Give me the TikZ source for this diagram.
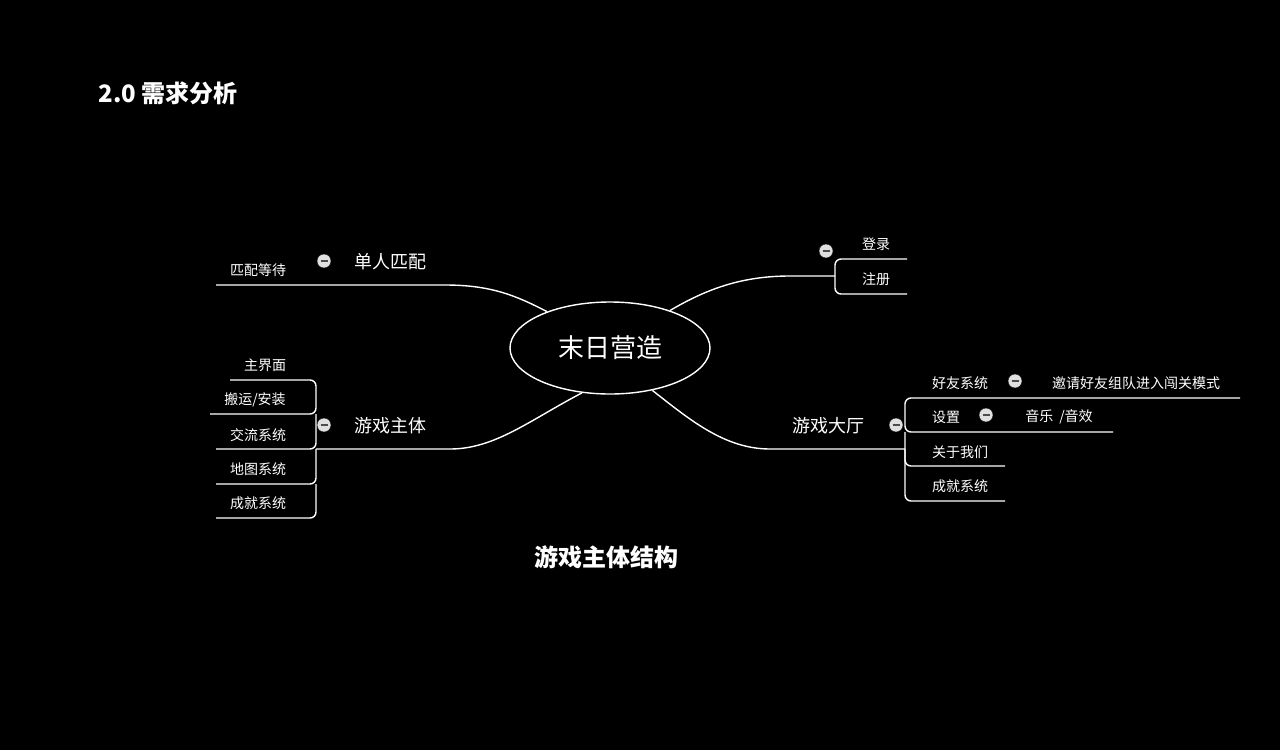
\documentclass[tikz,border=0pt]{standalone}
\usepackage{fontspec}
\setmainfont{Noto Sans CJK SC}
\usetikzlibrary{positioning,shapes.geometric}

\tikzset{
  branch/.style={draw=white, line width=1.4pt},
  leaf/.style={text=white, font=\fontsize{14}{16}\selectfont},
  topic/.style={text=white, font=\fontsize{18}{20}\selectfont},
  fold/.style={circle, fill=white!88!black, draw=black, inner sep=0pt, minimum size=14pt,
    path picture={\draw[black!70, line width=1.2pt] ([xshift=-3.5pt]path picture bounding box.center) -- ([xshift=3.5pt]path picture bounding box.center);}}
}

\begin{document}
\begin{tikzpicture}[x=1pt, y=-1pt]
    \fill[black] (0,0) rectangle (1280,750);
    \useasboundingbox (0,0) rectangle (1280,750);

    % title and caption
    \node[text=white, font=\fontsize{24}{26}\selectfont\bfseries, anchor=west] (title) at (95,93) {2.0 需求分析};
    \node[text=white, font=\fontsize{24}{26}\selectfont\bfseries] (caption) at (606,557) {游戏主体结构};

    % centre
    \node[ellipse, draw=white, line width=1.4pt, minimum width=200pt, minimum height=92pt,
      text=white, font=\fontsize{26}{28}\selectfont] (root) at (610,348) {末日营造};

    % single match
    \coordinate (s1) at (445,285);
    \coordinate (s2) at (216,285);
    \draw[branch] (root.150) .. controls (515,295) and (490,285) .. (s1) -- (s2);
    \node[topic] (single) at (390,262) {单人匹配};
    \node[fold] (fsingle) at (324,261) {};
    \node[leaf] (wait) at (258,270) {匹配等待};

    % game body
    \coordinate (b0) at (450,449);
    \coordinate (bx) at (316,449);
    \draw[branch] (root.238) .. controls (530,420) and (495,449) .. (b0) -- (bx);
    \node[topic] (body) at (390,426) {游戏主体};
    \node[fold] (fbody) at (324,425) {};
    \draw[branch, rounded corners=6pt] (230,380) -- (316,380) -- (316,414) -- (210,414);
    \draw[branch, rounded corners=6pt] (316,414) -- (316,449) -- (216,449);
    \draw[branch, rounded corners=6pt] (216,484) -- (316,484) -- (316,449);
    \draw[branch, rounded corners=6pt] (216,518) -- (316,518) -- (316,484);
    \node[leaf] (main) at (265,365) {主界面};
    \node[leaf] (carry) at (255,400) {搬运/安装};
    \node[leaf] (chat) at (258,435) {交流系统};
    \node[leaf] (map) at (258,469) {地图系统};
    \node[leaf] (ach) at (258,503) {成就系统};

    % login
    \coordinate (l0) at (790,276);
    \draw[branch] (root.32) .. controls (705,290) and (740,276) .. (l0) -- (835,276);
    \node[fold] (flogin) at (826,251) {};
    \draw[branch, rounded corners=6pt] (907,259) -- (835,259) -- (835,294) -- (907,294);
    \node[leaf] (login) at (876,244) {登录};
    \node[leaf] (reg) at (876,279) {注册};

    % lobby
    \coordinate (h0) at (770,449);
    \draw[branch] (root.-45) .. controls (690,420) and (725,449) .. (h0) -- (905,449);
    \node[topic] (lobby) at (828,426) {游戏大厅};
    \node[fold] (flobby) at (896,425) {};
    \draw[branch, rounded corners=6pt] (1240,398) -- (905,398) -- (905,432) -- (1113,432);
    \draw[branch, rounded corners=6pt] (905,432) -- (905,466) -- (1005,466);
    \draw[branch, rounded corners=6pt] (905,449) -- (905,501) -- (1005,501);
    \node[leaf] (friend) at (960,383) {好友系统};
    \node[fold] (ffriend) at (1015,381) {};
    \node[leaf] (invite) at (1136,383) {邀请好友组队进入闯关模式};
    \node[leaf] (set) at (946,417) {设置};
    \node[fold] (fset) at (986,415) {};
    \node[leaf] (music) at (1059,417) {音乐\hspace{6pt}/音效};
    \node[leaf] (about) at (960,452) {关于我们};
    \node[leaf] (ach2) at (960,486) {成就系统};
\end{tikzpicture}
\end{document}
